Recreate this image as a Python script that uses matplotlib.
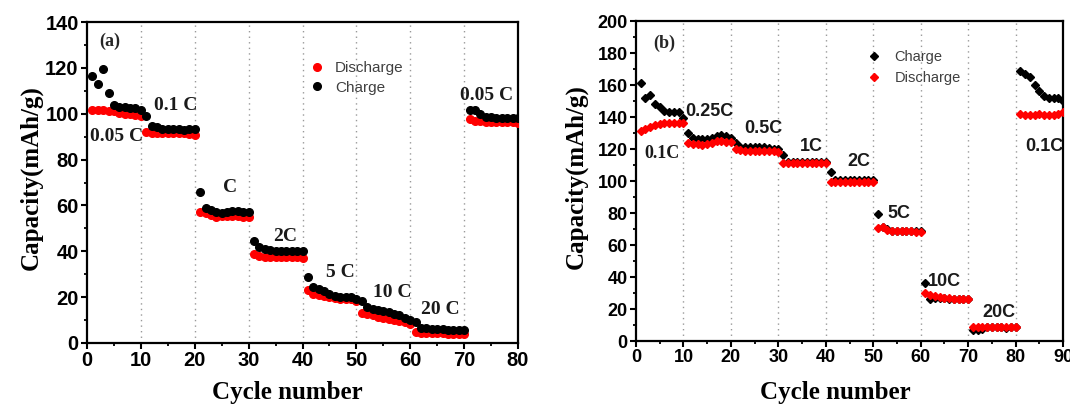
import numpy as np
import matplotlib
matplotlib.use("Agg")
import matplotlib.pyplot as plt
from matplotlib.ticker import MultipleLocator

# ---------------- data: panel (a) ----------------
cycles_a = np.arange(1, 81)
discharge_a = [101.5, 101.5, 101.5, 101, 101, 100.5, 100, 100, 99.5, 99,
               92, 91.5, 91.5, 91.5, 91.5, 91.5, 91.5, 91.5, 91, 90.5,
               57, 56.5, 56, 55, 55.5, 55.5, 55.5, 55.5, 55, 55,
               39, 38, 37.5, 37.5, 37.5, 37.5, 37.5, 37.5, 37.5, 37,
               23, 21.5, 21, 20.5, 20, 19.5, 19, 19, 19, 18.5,
               13, 12.5, 12, 11.5, 11, 10.5, 10, 9.5, 9, 8.5,
               5, 4.5, 4.5, 4.5, 4.5, 4.5, 4, 4, 4, 4,
               97.5, 97, 97, 96.5, 96.5, 96.5, 96.5, 96.5, 96.5, 96]
charge_a = [116.5, 113, 119.5, 109, 104, 103, 103, 102.5, 102.5, 101.5,
            99, 94.5, 94, 93.5, 93.5, 93.5, 93.5, 93, 93.5, 93.5,
            66, 59, 58, 57, 56.5, 57, 57.5, 57.5, 57, 57,
            44.5, 42, 41, 40.5, 40, 40, 40, 40, 40, 40,
            29, 24.5, 23.5, 22.5, 21.5, 20.5, 20, 20, 20, 19,
            18.5, 15.5, 15, 14.5, 14, 13.5, 12.5, 12, 11, 10,
            9, 6.5, 6.5, 6, 6, 6, 5.5, 5.5, 5.5, 5.5,
            101.5, 101.5, 100, 98.5, 98.5, 98, 98, 98, 98, 98]
rates_a = ["0.05 C", "0.1 C", "C", "2C", "5 C", "10 C", "20 C", "0.05 C"]
rate_pos_a = [(5.5, 90), (16.4, 103.4), (26.6, 67.7), (36.7, 46.4),
              (47.0, 30.7), (56.7, 22.2), (65.5, 14.4), (74.2, 108)]

# ---------------- data: panel (b) ----------------
cycles_b = np.arange(1, 91)
charge_b = [161.5, 152, 154, 148, 146, 144, 143, 143, 143, 139.5,
            130, 127, 126.5, 126, 126, 127, 128, 129, 128, 127,
            124, 121, 121, 121, 121, 121, 121, 120.5, 120, 120,
            116, 112, 112, 112, 112, 112, 112, 112, 112, 112,
            105.5, 100.5, 100.5, 100.5, 100.5, 100.5, 100.5, 100.5, 100.5, 100.5,
            79.5, 71, 70, 69, 69, 69, 69, 69, 68.5, 68.5,
            36, 26, 27, 27, 27, 26.5, 26, 26, 26, 26,
            7, 7, 7.5, 8.5, 8.5, 8.5, 8.5, 8, 8.5, 8.5,
            169, 167, 165, 160, 156, 153, 152, 152, 152, 150]
discharge_b = [131, 132.5, 134, 135, 135.5, 136, 136, 136.5, 136.5, 136,
               123.5, 123, 123, 122.5, 123, 124, 125, 125, 124.5, 124.5,
               120, 119.5, 119, 119, 119, 119, 118.5, 118.5, 118.5, 118,
               111, 111, 111, 111, 111.5, 111.5, 111.5, 111, 111, 111,
               99.5, 99.5, 99.5, 99.5, 99.5, 99.5, 99.5, 99.5, 99.5, 99.5,
               70.5, 71, 69.5, 68.5, 69, 69, 69, 68.5, 68, 68,
               30, 28.5, 28, 27.5, 27, 27, 26.5, 26.5, 26, 26,
               9, 9, 9, 9, 9, 9, 9, 9, 9, 9,
               142, 141.5, 141.5, 141.5, 142, 141, 141, 141, 142, 143]
rates_b = ["0.1C", "0.25C", "0.5C", "1C", "2C", "5C", "10C", "20C", "0.1C"]
rate_pos_b = [(5.5, 117.3), (15.5, 143.7), (26.9, 133), (36.9, 121.4),
              (47.0, 112), (55.5, 79.8), (65.0, 37), (76.5, 17.7), (86.0, 121.4)]
rate_font_b = ["serif", "sans", "sans", "sans", "sans", "sans", "sans", "sans", "sans"]

SERIF = "Liberation Serif"
SANS = "Liberation Sans"
RED = "#ff0000"
BLK = "#000000"

W, H = 1070, 405
fig = plt.figure(figsize=(W / 100, H / 100), dpi=100)
ax1 = fig.add_axes([87 / W, 1 - 343 / H, 431 / W, 321 / H])
ax2 = fig.add_axes([636 / W, 1 - 341 / H, 427 / W, 320 / H])


def style(ax, xmax, ymax, ystep, tick_fs):
    ax.set_xlim(0, xmax)
    ax.set_ylim(0, ymax)
    ax.xaxis.set_major_locator(MultipleLocator(10))
    ax.xaxis.set_minor_locator(MultipleLocator(5))
    ax.yaxis.set_major_locator(MultipleLocator(ystep))
    ax.yaxis.set_minor_locator(MultipleLocator(ystep / 2))
    for s in ax.spines.values():
        s.set_linewidth(1.6)
    ax.tick_params(which="major", direction="out", length=4, width=1.5,
                   labelsize=tick_fs, pad=2)
    ax.tick_params(which="minor", direction="out", length=2.5, width=1.3)
    for lab in ax.get_xticklabels() + ax.get_yticklabels():
        lab.set_fontfamily(SANS)
        lab.set_fontweight("bold")


# ---------- panel (a) ----------
for xv in range(10, 80, 10):
    ax1.axvline(xv, color="0.6", ls=(0, (1, 3)), lw=1.0, zorder=1)
ax1.plot(cycles_a, discharge_a, "o", color=RED, ms=5.5, mec=RED, label="Discharge", zorder=3)
ax1.plot(cycles_a, charge_a, "o", color=BLK, ms=5.5, mec=BLK, label="Charge", zorder=4)
style(ax1, 80, 140, 20, 14.5)
ax1.text(4.2, 131.4, "(a)", fontfamily=SERIF, fontweight="bold", fontsize=13,
         ha="center", va="center", color="0.15")
for t, (x, y) in zip(rates_a, rate_pos_a):
    ax1.text(x, y, t, fontfamily=SERIF, fontweight="bold", fontsize=14,
             ha="center", va="center", color="0.1")
leg1 = ax1.legend(loc="upper left", bbox_to_anchor=(0.48, 0.92), frameon=False,
                  prop={"family": SANS, "size": 11}, handletextpad=0.6,
                  handlelength=1.2, labelspacing=0.35, markerscale=1.0)
for t in leg1.get_texts():
    t.set_color("0.25")

# ---------- panel (b) ----------
for xv in range(10, 90, 10):
    ax2.axvline(xv, color="0.6", ls=(0, (1, 3)), lw=1.0, zorder=1)
ax2.plot(cycles_b, charge_b, "D", color=BLK, ms=4.2, mec=BLK, label="Charge", zorder=3)
ax2.plot(cycles_b, discharge_b, "D", color=RED, ms=4.2, mec=RED, label="Discharge", zorder=4)
style(ax2, 90, 200, 20, 13)
ax2.text(6.0, 186, "(b)", fontfamily=SERIF, fontweight="bold", fontsize=13,
         ha="center", va="center", color="0.15")
for t, (x, y), f in zip(rates_b, rate_pos_b, rate_font_b):
    ax2.text(x, y, t, fontfamily=SERIF if f == "serif" else SANS,
             fontweight="bold", fontsize=13, ha="center", va="center", color="0.1")
leg2 = ax2.legend(loc="upper left", bbox_to_anchor=(0.51, 0.95), frameon=False,
                  prop={"family": SANS, "size": 10.5}, handletextpad=0.9,
                  handlelength=1.0, labelspacing=0.5)
for t in leg2.get_texts():
    t.set_color("0.25")

# axis labels
fig.text(287 / W, 1 - 393 / H, "Cycle number", fontfamily=SERIF, fontweight="bold",
         fontsize=18, ha="center", va="center")
fig.text(31 / W, 1 - 178 / H, "Capacity(mAh/g)", fontfamily=SERIF, fontweight="bold",
         fontsize=18, ha="center", va="center", rotation=90)
fig.text(835 / W, 1 - 393 / H, "Cycle number", fontfamily=SERIF, fontweight="bold",
         fontsize=18, ha="center", va="center")
fig.text(576 / W, 1 - 177 / H, "Capacity(mAh/g)", fontfamily=SERIF, fontweight="bold",
         fontsize=18, ha="center", va="center", rotation=90)

fig.savefig("out.png", dpi=100, facecolor="white")
